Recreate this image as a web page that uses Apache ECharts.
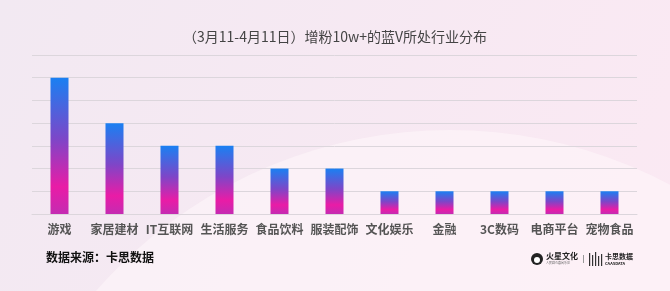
<!DOCTYPE html>
<html>
<head>
<meta charset="utf-8">
<script src="https://cdn.jsdelivr.net/npm/echarts@6/dist/echarts.min.js"></script>
<style>
  html, body { margin: 0; padding: 0; }
  #chart { width: 670px; height: 291px; }
</style>
</head>
<body>
<div id="chart"></div>
<script>
// Industries of blue-V accounts gaining 100k+ fans
const categories = ['游戏', '家居建材', 'IT互联网', '生活服务', '食品饮料', '服装配饰', '文化娱乐', '金融', '3C数码', '电商平台', '宠物食品'];
const counts = [6, 4, 3, 3, 2, 2, 1, 1, 1, 1, 1];
const titleText = '（3月11-4月11日）增粉10w+的蓝V所处行业分布';
const sourceText = '数据来源：卡思数据';

const FONT = '"Noto Sans CJK SC", "Noto Sans", sans-serif';
const chart = echarts.init(document.getElementById('chart'));

const barGradient = new echarts.graphic.LinearGradient(0, 0, 0, 1, [
  { offset: 0, color: '#1a80f2' },
  { offset: 0.45, color: '#7d46c8' },
  { offset: 0.8, color: '#e91ca6' },
  { offset: 1, color: '#c42bb2' }
]);

chart.setOption({
  backgroundColor: new echarts.graphic.LinearGradient(0, 0, 1, 1, [
    { offset: 0, color: '#f2e9f2' },
    { offset: 1, color: '#fbe9f3' }
  ]),
  animation: false,
  graphic: [
    {
      type: 'circle',
      z: -10,
      shape: { cx: 450, cy: 600, r: 470 },
      style: { fill: 'rgba(255,250,252,0.5)' }
    },
    {
      type: 'text',
      left: 46,
      top: 251,
      style: { text: sourceText, font: 'bold 12px ' + FONT, fill: '#111' }
    },
    {
      type: 'group',
      left: 531,
      top: 252,
      children: [
        { type: 'circle', shape: { cx: 6, cy: 7, r: 6 }, style: { fill: '#222' } },
        { type: 'circle', shape: { cx: 6, cy: 8, r: 3 }, style: { fill: '#fff' } },
        { type: 'text', x: 15, y: 0, style: { text: '火星文化', font: 'bold 8px ' + FONT, fill: '#222' } },
        { type: 'text', x: 15, y: 9, style: { text: '人民群众喜闻乐见', font: '3px ' + FONT, fill: '#666' } },
        { type: 'rect', shape: { x: 52, y: 3, width: 1, height: 8 }, style: { fill: '#999' } },
        { type: 'rect', shape: { x: 58, y: 1, width: 1.2, height: 13 }, style: { fill: '#333' } },
        { type: 'rect', shape: { x: 61, y: 3, width: 1.2, height: 11 }, style: { fill: '#333' } },
        { type: 'rect', shape: { x: 64, y: 0, width: 1.2, height: 14 }, style: { fill: '#333' } },
        { type: 'rect', shape: { x: 67, y: 4, width: 1.2, height: 10 }, style: { fill: '#333' } },
        { type: 'rect', shape: { x: 70, y: 2, width: 1.2, height: 12 }, style: { fill: '#333' } },
        { type: 'text', x: 74, y: 1, style: { text: '卡思数据', font: 'bold 7px ' + FONT, fill: '#222' } },
        { type: 'text', x: 74, y: 9, style: { text: 'CAASDATA', font: 'bold 4px ' + FONT, fill: '#222' } }
      ]
    }
  ],
  title: {
    text: titleText,
    left: 'center',
    top: 25,
    textStyle: { fontFamily: FONT, fontSize: 14, fontWeight: 'normal', color: '#444' }
  },
  grid: { left: 32, right: 33, top: 55, bottom: 77 },
  xAxis: {
    type: 'category',
    data: categories,
    axisTick: { show: false },
    axisLine: { lineStyle: { color: '#dcd6dc' } },
    axisLabel: {
      margin: 9,
      interval: 0,
      fontFamily: FONT,
      fontSize: 12,
      fontWeight: 'bold',
      color: '#555'
    }
  },
  yAxis: {
    type: 'value',
    min: 0,
    max: 7,
    interval: 1,
    axisLabel: { show: false },
    axisLine: { show: false },
    axisTick: { show: false },
    splitLine: { lineStyle: { color: '#dcd6dc' } }
  },
  series: [{
    type: 'bar',
    data: counts,
    barWidth: 18,
    itemStyle: { color: barGradient }
  }]
});
</script>
</body>
</html>
